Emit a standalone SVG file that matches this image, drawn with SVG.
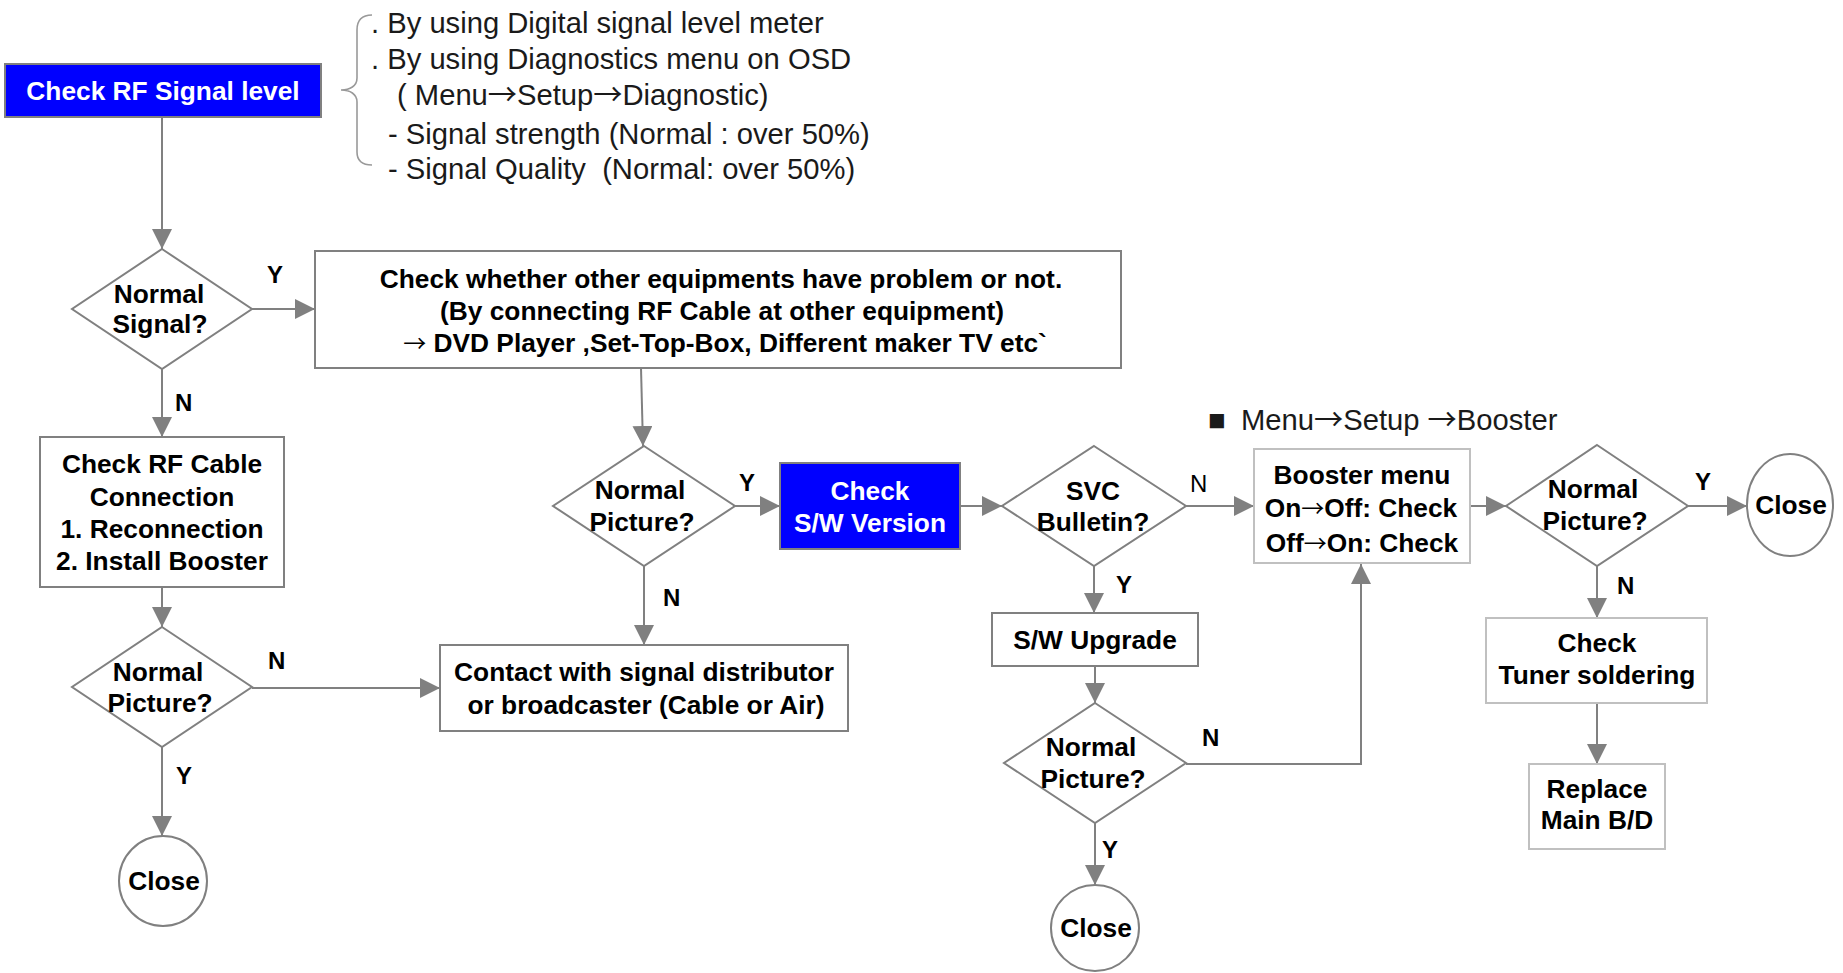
<svg xmlns="http://www.w3.org/2000/svg" width="1843" height="973" viewBox="0 0 1843 973">
<style>
.bg{fill:#ffffff}
.box{fill:#ffffff;stroke:#808080;stroke-width:2}
.lbox{fill:#ffffff;stroke:#c0c0c0;stroke-width:2}
.blue{fill:#0000ff;stroke:#808080;stroke-width:2}
.t{font-family:"Liberation Sans",Arial,sans-serif;font-weight:bold;font-size:26.3px;fill:#000;text-anchor:middle}
.tw{font-family:"Liberation Sans",Arial,sans-serif;font-weight:bold;font-size:26.3px;fill:#fff;text-anchor:middle}
.note{font-family:"Liberation Sans",Arial,sans-serif;font-size:29.2px;fill:#1a1a1a;white-space:pre}
.lab{font-family:"Liberation Sans",Arial,sans-serif;font-weight:bold;font-size:24px;fill:#000}
.labr{font-family:"Liberation Sans",Arial,sans-serif;font-size:24px;fill:#000}
.ar{font-family:"Noto Sans CJK KR","Noto Sans CJK SC",sans-serif;font-weight:normal}
.ars{font-family:"Noto Sans CJK KR","Noto Sans CJK SC",sans-serif;font-weight:normal;font-size:23px}
.con{fill:none;stroke:#808080;stroke-width:2;marker-end:url(#ah)}
.brace{fill:none;stroke:#999999;stroke-width:1.6}
</style>
<defs>
<marker id="ah" markerUnits="userSpaceOnUse" markerWidth="20" markerHeight="20" viewBox="0 0 20 20" refX="20" refY="10" orient="auto">
<path d="M0,0 L20,10 L0,20 z" fill="#808080"/>
</marker>
</defs>
<rect class="bg" x="0" y="0" width="1843" height="973"/>

<g id="connectors">
<line class="con" x1="162" y1="118" x2="162" y2="249"/>
<line class="con" x1="252" y1="309" x2="315" y2="309"/>
<line class="con" x1="162" y1="369" x2="162" y2="437"/>
<line class="con" x1="162" y1="587" x2="162" y2="627"/>
<line class="con" x1="252" y1="688" x2="440" y2="688"/>
<line class="con" x1="162" y1="747" x2="162" y2="836"/>
<line class="con" x1="641" y1="368" x2="643" y2="446"/>
<line class="con" x1="735" y1="506" x2="780" y2="506"/>
<line class="con" x1="644" y1="566" x2="644" y2="645"/>
<line class="con" x1="960" y1="506" x2="1002" y2="506"/>
<line class="con" x1="1186" y1="506" x2="1254" y2="506"/>
<line class="con" x1="1470" y1="506" x2="1506" y2="506"/>
<line class="con" x1="1688" y1="506" x2="1747" y2="506"/>
<line class="con" x1="1597" y1="566" x2="1597" y2="618"/>
<line class="con" x1="1597" y1="703" x2="1597" y2="764"/>
<line class="con" x1="1094" y1="566" x2="1094" y2="613"/>
<line class="con" x1="1095" y1="666" x2="1095" y2="703"/>
<polyline class="con" points="1186,764 1361,764 1361,564"/>
<line class="con" x1="1095" y1="823" x2="1095" y2="885"/>
</g>

<g id="labels">
<text class="lab" x="267" y="283">Y</text>
<text class="lab" x="175" y="411">N</text>
<text class="lab" x="268" y="669">N</text>
<text class="lab" x="176" y="784">Y</text>
<text class="lab" x="739" y="491">Y</text>
<text class="lab" x="663" y="606">N</text>
<text class="labr" x="1190" y="492">N</text>
<text class="lab" x="1116" y="593">Y</text>
<text class="lab" x="1202" y="746">N</text>
<text class="lab" x="1102" y="858">Y</text>
<text class="lab" x="1695" y="490">Y</text>
<text class="lab" x="1617" y="594">N</text>
</g>

<g id="n_check_rf">
<rect class="blue" x="5" y="64" width="316" height="53"/>
<text class="tw" x="163" y="100">Check RF Signal level</text>
</g>

<g id="n_note">
<path class="brace" d="M372,15 C362,15 357,20 357,30 L357,78 C357,86 350,90 341,90 C350,90 357,94 357,102 L357,152 C357,160 362,165 372,165"/>
<text class="note" x="371" y="33">. By using Digital signal level meter</text>
<text class="note" x="371" y="69">. By using Diagnostics menu on OSD</text>
<text class="note" x="397" y="105">( Menu<tspan class="ar">→</tspan>Setup<tspan class="ar">→</tspan>Diagnostic)</text>
<text class="note" x="388" y="144">- Signal strength (Normal : over 50%)</text>
<text class="note" x="388" y="179">- Signal Quality  (Normal: over 50%)</text>
</g>

<g id="n_normal_signal">
<polygon class="box" points="162,249 252,309 162,369 72,309"/>
<text class="t" x="159" y="303">Normal</text>
<text class="t" x="160" y="333">Signal?</text>
</g>

<g id="n_check_other">
<rect class="box" x="315" y="251" width="806" height="117"/>
<text class="t" x="721" y="288">Check whether other equipments have problem or not.</text>
<text class="t" x="722" y="320">(By connecting RF Cable at other equipment)</text>
<text class="t" x="725" y="352"><tspan class="ars">→</tspan> DVD Player ,Set-Top-Box, Different maker TV etc`</text>
</g>

<g id="n_check_cable">
<rect class="box" x="40" y="437" width="244" height="150"/>
<text class="t" x="162" y="473">Check RF Cable</text>
<text class="t" x="162" y="506">Connection</text>
<text class="t" x="162" y="538">1. Reconnection</text>
<text class="t" x="162" y="570">2. Install Booster</text>
</g>

<g id="n_normal_picture1">
<polygon class="box" points="162,627 252,687 162,747 72,687"/>
<text class="t" x="158" y="681">Normal</text>
<text class="t" x="160" y="712">Picture?</text>
</g>

<g id="n_contact">
<rect class="box" x="440" y="645" width="408" height="86"/>
<text class="t" x="644" y="681">Contact with signal distributor</text>
<text class="t" x="646" y="714">or broadcaster (Cable or Air)</text>
</g>

<g id="n_close1">
<ellipse class="box" cx="163" cy="881" rx="44" ry="45"/>
<text class="t" x="164" y="890">Close</text>
</g>

<g id="n_normal_picture2">
<polygon class="box" points="644,446 735,506 644,566 553,506"/>
<text class="t" x="640" y="499">Normal</text>
<text class="t" x="642" y="531">Picture?</text>
</g>

<g id="n_check_sw">
<rect class="blue" x="780" y="463" width="180" height="86"/>
<text class="tw" x="870" y="500">Check</text>
<text class="tw" x="870" y="532">S/W Version</text>
</g>

<g id="n_svc">
<polygon class="box" points="1094,446 1186,506 1094,566 1002,506"/>
<text class="t" x="1093" y="500">SVC</text>
<text class="t" x="1093" y="531">Bulletin?</text>
</g>

<g id="n_booster_note">
<text class="note" x="1208" y="430">■</text>
<text class="note" x="1241" y="430">Menu<tspan class="ar">→</tspan>Setup <tspan class="ar">→</tspan>Booster</text>
</g>

<g id="n_booster">
<rect class="lbox" x="1254" y="449" width="216" height="114"/>
<text class="t" x="1362" y="484">Booster menu</text>
<text class="t" x="1361" y="517">On<tspan class="ars">→</tspan>Off: Check</text>
<text class="t" x="1362" y="552">Off<tspan class="ars">→</tspan>On: Check</text>
</g>

<g id="n_normal_picture3">
<polygon class="box" points="1597,445 1688,506 1597,566 1506,506"/>
<text class="t" x="1593" y="498">Normal</text>
<text class="t" x="1595" y="530">Picture?</text>
</g>

<g id="n_close2">
<ellipse class="box" cx="1790" cy="505" rx="43" ry="51"/>
<text class="t" x="1791" y="514">Close</text>
</g>

<g id="n_tuner">
<rect class="lbox" x="1486" y="618" width="221" height="85"/>
<text class="t" x="1597" y="652">Check</text>
<text class="t" x="1597" y="684">Tuner soldering</text>
</g>

<g id="n_replace">
<rect class="lbox" x="1529" y="764" width="136" height="85"/>
<text class="t" x="1597" y="798">Replace</text>
<text class="t" x="1597" y="829">Main B/D</text>
</g>

<g id="n_sw_upgrade">
<rect class="box" x="992" y="613" width="206" height="53"/>
<text class="t" x="1095" y="649">S/W Upgrade</text>
</g>

<g id="n_normal_picture4">
<polygon class="box" points="1095,703 1186,763 1095,823 1004,763"/>
<text class="t" x="1091" y="756">Normal</text>
<text class="t" x="1093" y="788">Picture?</text>
</g>

<g id="n_close3">
<ellipse class="box" cx="1095" cy="928" rx="44" ry="43"/>
<text class="t" x="1096" y="937">Close</text>
</g>
</svg>
